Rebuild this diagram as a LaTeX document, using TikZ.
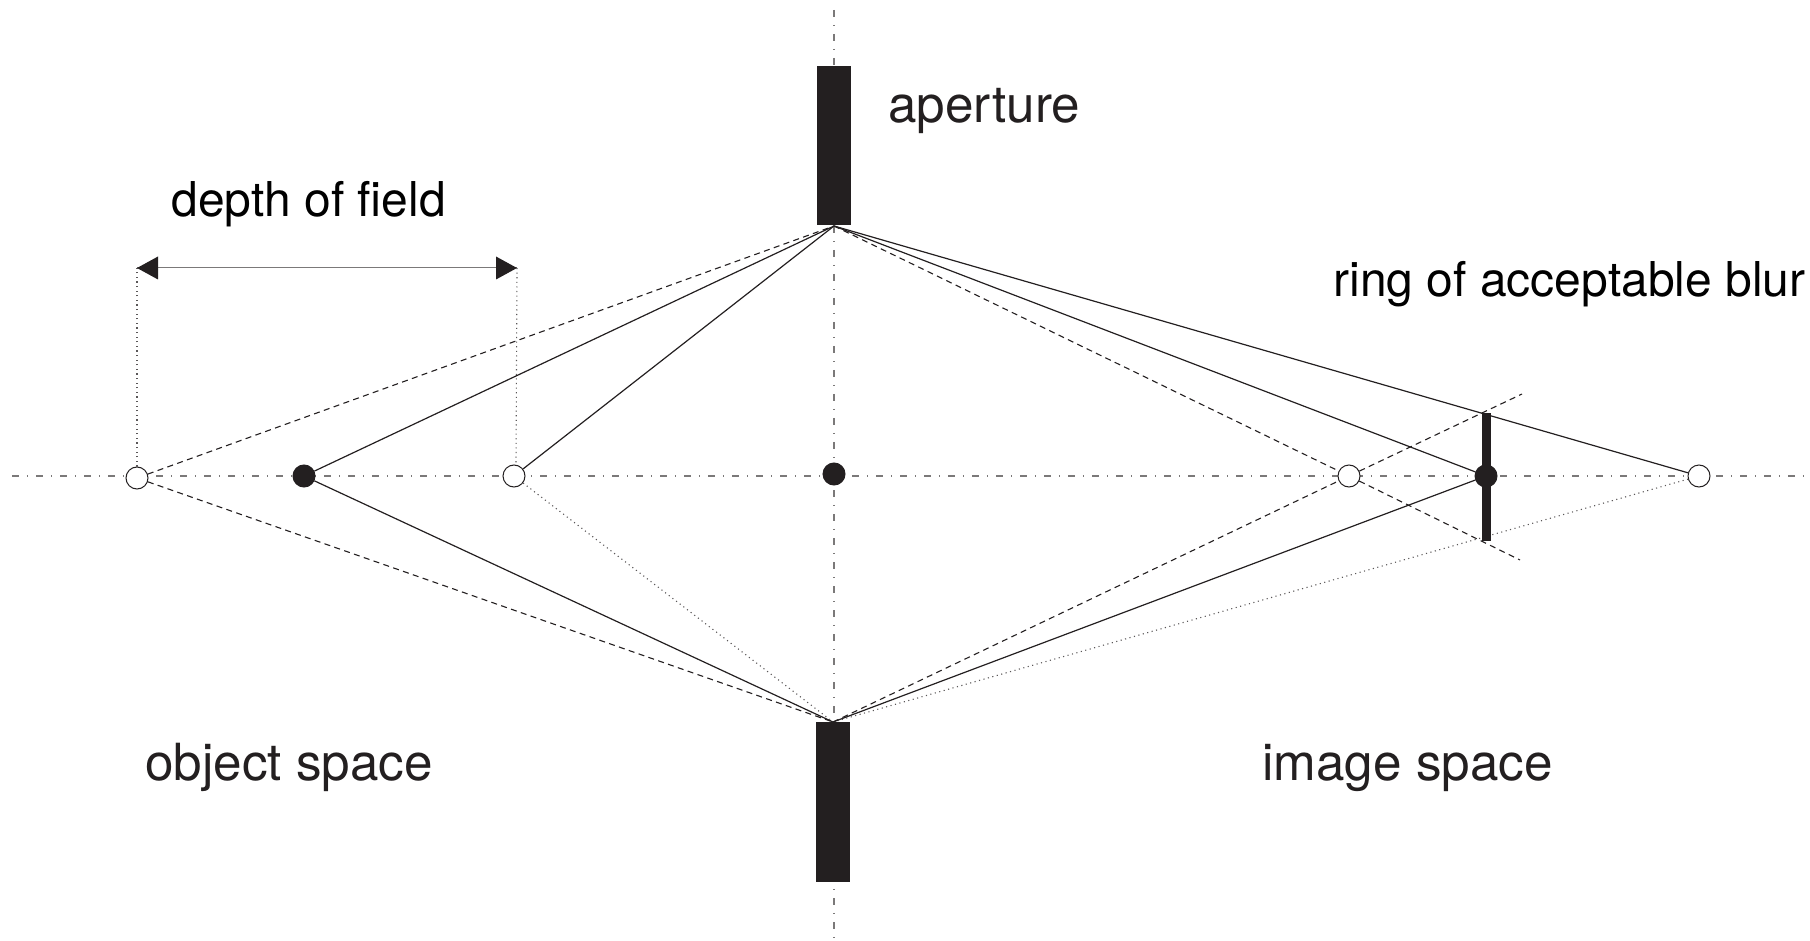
\documentclass[tikz,border=0pt]{standalone}
\usepackage{fontspec}
\setmainfont{TeX Gyre Heros}
\definecolor{ink}{HTML}{231F20}
\tikzset{
  thinline/.style={draw=ink,line width=0.6pt},
  dashline/.style={draw=ink,line width=0.55pt,dash pattern=on 3pt off 2.2pt},
  dotline/.style={draw=ink!75,line width=0.55pt,dash pattern=on 0.55pt off 1.75pt},
  axisline/.style={draw=ink!60,line width=0.7pt,dash pattern=on 3.5pt off 3.9pt on 0.8pt off 3.8pt},
  openpt/.style={circle,draw=ink,fill=white,line width=0.5pt,inner sep=0pt,minimum size=11pt},
  fullpt/.style={circle,draw=ink,fill=ink,line width=0.5pt,inner sep=0pt,minimum size=11pt},
  stopbar/.style={fill=ink,draw=none},
  lab/.style={anchor=base west,inner sep=0pt,text=ink,font=\fontsize{25.6pt}{29pt}\selectfont},
  labk/.style={anchor=base west,inner sep=0pt,text=black,font=\fontsize{24pt}{28pt}\selectfont},
  dimtip/.style={fill=ink,draw=none}
}
\begin{document}
\begin{tikzpicture}[x=0.5pt,y=-0.5pt]
\useasboundingbox (0,0) rectangle (1810,941);
% coordinates
\coordinate (T) at (834,226);
\coordinate (B) at (833,722);
\coordinate (axL) at (12,476);
\coordinate (axR) at (1810,476);
\coordinate (axT) at (834,10);
\coordinate (axB) at (834,941);
\coordinate (endU) at (1522,394);
\coordinate (endD) at (1520,560);
\coordinate (dimL) at (137,268);
\coordinate (dimR) at (517,268);
\coordinate (dimF) at (516,465);
% axes
\draw[axisline] (axL) -- (axR);
\draw[axisline] (axT) -- (axB);
% point nodes
\node[openpt] (o1) at (137,478) {};
\node[fullpt] (o2) at (304,476) {};
\node[openpt] (o3) at (514,476) {};
\node[fullpt] (c)  at (834,474) {};
\node[openpt] (i1) at (1349,476) {};
\node[openpt] (i3) at (1699,476) {};
% rays
\draw[dashline] (o1) -- (T);
\draw[dashline] (o1) -- (B);
\draw[thinline] (o2) -- (T);
\draw[thinline] (o2) -- (B);
\draw[thinline] (o3) -- (T);
\draw[dotline] (o3) -- (B);
\draw[dashline] (T) -- (i1);
\draw[dashline] (i1) -- (endD);
\draw[dashline] (B) -- (i1);
\draw[dashline] (i1) -- (endU);
\draw[thinline] (T) -- (i3);
\draw[dotline] (B) -- (i3);
% stops
\node[stopbar,minimum width=17pt,minimum height=79.5pt,inner sep=0pt] (apT) at (834,145.5) {};
\node[stopbar,minimum width=17pt,minimum height=80pt,inner sep=0pt] (apB) at (833,802) {};
\node[stopbar,minimum width=4.5pt,minimum height=64pt,inner sep=0pt] (blur) at (1486,477) {};
\node[fullpt] (i2) at (1486,476) {};
\draw[thinline] (i2) -- (T);
\draw[thinline] (i2) -- (B);
% dimension
\draw[dotline] (o1) -- (dimL);
\draw[dotline] (dimR) -- (dimF);
\draw[draw=ink!60,line width=0.5pt] (dimL) -- (dimR);
\fill[dimtip] (dimL) -- ++(21,-11.5) -- ++(0,23) -- cycle;
\fill[dimtip] (dimR) -- ++(-21,-11.5) -- ++(0,23) -- cycle;
% labels
\node[lab] (l1) at (888,123) {aperture};
\node[labk] (l2) at (171,216.5) {depth of field};
\node[labk] (l3) at (1333,296.5) {ring of acceptable blur};
\node[lab] (l4) at (145,780) {object space};
\node[lab] (l5) at (1262,780) {image space};
\end{tikzpicture}
\end{document}
